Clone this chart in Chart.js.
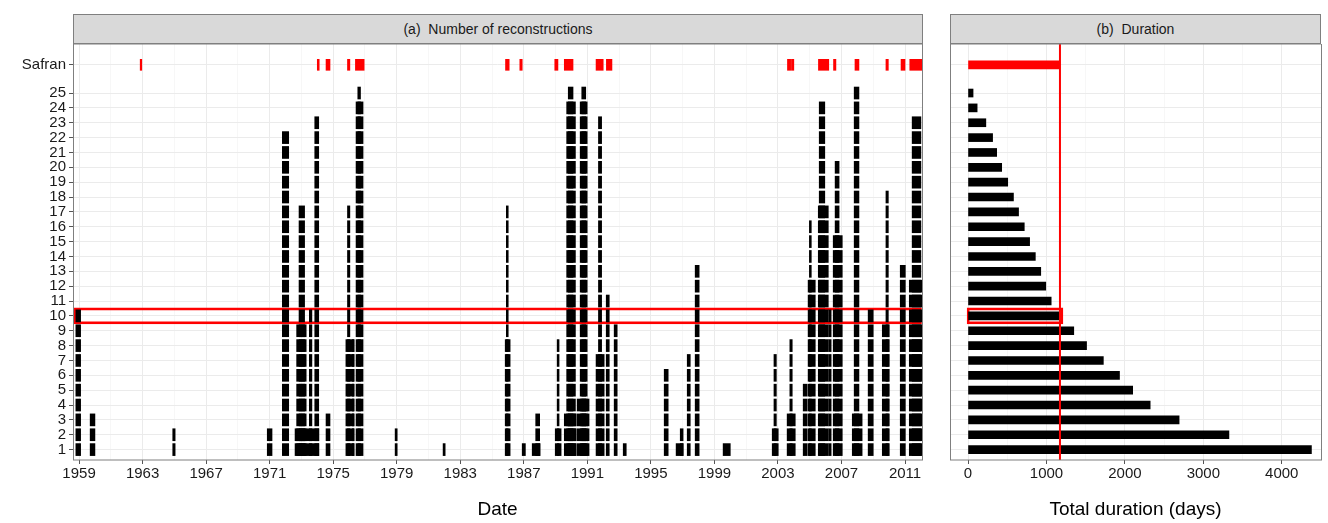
<!DOCTYPE html>
<html>
<head>
<meta charset="utf-8">
<script src="https://cdn.jsdelivr.net/npm/chart.js@4.4.1/dist/chart.umd.min.js"></script>
<style>
  body { margin: 0; background: #fff; font-family: "Liberation Sans", Arial, sans-serif; }
  #wrap { position: relative; width: 1328px; height: 523px; overflow: hidden; }
  .strip { position: absolute; top: 14px; height: 30px; background: #d9d9d9; border: 1px solid #7f7f7f;
           box-sizing: border-box; font-size: 14px; color: #1a1a1a; text-align: center; line-height: 28px; }
  canvas { position: absolute; top: 44px; }
</style>
</head>
<body>
<div id="wrap">
  <div class="strip" style="left:73px;width:850px;">(a)&nbsp; Number of reconstructions</div>
  <div class="strip" style="left:950px;width:371px;">(b)&nbsp; Duration</div>
  <canvas id="chartA" style="left:0px;"></canvas>
  <canvas id="chartB" style="left:935px;"></canvas>
</div>
<script>
// drought periods per reconstruction: [start year, end year, highest reconstruction number]
var events = [
  [1958.8, 1959.1, 10], [1959.7, 1960.0, 3], [1964.9, 1965.05, 2], [1970.85, 1971.15, 2],
  [1971.8, 1972.2, 22], [1972.6, 1974.1, 2], [1972.7, 1973.3, 9], [1972.85, 1973.2, 17],
  [1973.5, 1973.66, 10], [1973.84, 1974.09, 23], [1974.55, 1974.8, 3],
  [1975.8, 1976.32, 8], [1975.9, 1976.05, 17], [1976.2, 1976.3, 8], [1976.44, 1976.88, 24], [1976.55, 1976.72, 25],
  [1978.9, 1979.03, 2], [1981.92, 1982.05, 1],
  [1985.83, 1986.14, 8], [1985.9, 1986.02, 17], [1986.9, 1987.1, 1], [1987.53, 1988.03, 1], [1987.75, 1988.0, 3],
  [1988.98, 1989.35, 2], [1989.1, 1989.22, 8],
  [1989.55, 1990.3, 3], [1989.7, 1990.25, 24], [1989.8, 1990.1, 25],
  [1990.36, 1991.11, 4], [1990.55, 1990.99, 24], [1990.65, 1990.9, 25],
  [1991.55, 1992.06, 7], [1991.7, 1991.9, 23], [1992.19, 1992.38, 11], [1992.69, 1992.88, 9], [1993.26, 1993.45, 1],
  [1995.84, 1996.09, 6], [1996.59, 1997.03, 1], [1996.85, 1997.03, 2], [1997.29, 1997.48, 7], [1997.79, 1998.04, 13],
  [1999.55, 2000.0, 1],
  [2002.64, 2003.02, 2], [2002.75, 2002.9, 7], [2003.58, 2004.09, 3], [2003.75, 2003.9, 8],
  [2004.59, 2004.84, 5], [2004.9, 2005.35, 12], [2004.98, 2005.1, 16],
  [2005.54, 2006.17, 17], [2005.6, 2005.95, 24], [2006.2, 2006.35, 10],
  [2006.48, 2007.05, 15], [2006.6, 2006.85, 20], [2007.68, 2008.3, 3], [2007.8, 2008.1, 25],
  [2008.68, 2009.0, 10], [2009.57, 2010.01, 9], [2009.8, 2009.95, 18], [2010.7, 2011.02, 13],
  [2011.27, 2012.15, 12], [2011.45, 2012.0, 23]
];
// Safran drought periods
var safran = [
  [1962.85, 1962.95], [1974.0, 1974.12], [1974.55, 1974.8], [1975.9, 1976.05], [1976.4, 1976.95],
  [1985.85, 1986.08], [1986.75, 1986.9], [1988.95, 1989.15], [1989.55, 1990.1],
  [1991.55, 1992.0], [1992.2, 1992.55], [2003.6, 2003.8], [2003.85, 2004.0],
  [2005.55, 2006.2], [2006.5, 2006.65], [2007.85, 2008.1], [2009.8, 2009.95], [2010.75, 2011.0], [2011.3, 2012.15]
];
// total duration (days) for reconstructions 1..25
var durations = [4378, 3326, 2691, 2322, 2099, 1931, 1725, 1511, 1348, 1172, 1060, 991, 927, 858, 785,
                 717, 644, 579, 506, 429, 365, 313, 227, 116, 64];
var safranDuration = 1172;
var selectedRow = 10;
var safranRow = 26.9;
var yearTicks = [1959, 1963, 1967, 1971, 1975, 1979, 1983, 1987, 1991, 1995, 1999, 2003, 2007, 2011];
var durationTicks = [0, 1000, 2000, 3000, 4000];

var FONT = "'Liberation Sans', Arial, sans-serif";
Chart.defaults.font.family = FONT;
Chart.defaults.animation = false;

var recBars = [];
events.forEach(function (ev) {
  for (var r = 1; r <= ev[2]; r++) recBars.push({ x: [ev[0], ev[1]], y: r });
});
var safranBars = safran.map(function (s) { return { x: [s[0], s[1]], y: safranRow }; });

var borderPlugin = {
  id: "panelBorder",
  afterDraw: function (chart) {
    var a = chart.chartArea, c = chart.ctx;
    c.save(); c.strokeStyle = "#7f7f7f"; c.lineWidth = 1;
    c.strokeRect(a.left + 0.5, a.top, a.right - a.left, a.bottom - a.top);
    c.restore();
  }
};

function yScale(showLabels, width) {
  return {
    type: "linear", min: 0.3, max: 28.3, offset: false,
    afterBuildTicks: function (s) {
      var t = [];
      for (var i = 1; i <= 25; i++) t.push({ value: i });
      t.push({ value: safranRow });
      s.ticks = t;
    },
    afterFit: function (s) { s.width = width; s.paddingTop = 0; s.paddingBottom = 0; },
    ticks: {
      display: showLabels, color: "#1a1a1a", font: { size: 15 }, padding: 3, autoSkip: false,
      callback: function (v) { return v === safranRow ? "Safran" : v; }
    },
    grid: { color: "#ebebeb", tickColor: "#555", tickLength: showLabels ? 4 : 0, offset: false },
    border: { display: false }
  };
}

function xScale(min, max, majors, step, title) {
  return {
    type: "linear", min: min, max: max,
    afterBuildTicks: function (s) {
      var t = [];
      for (var v = majors[0] - step; v <= max; v += step) if (v >= min) t.push({ value: v });
      s.ticks = t;
    },
    afterFit: function (s) { s.height = 63; s.paddingLeft = 0; s.paddingRight = 0; },
    ticks: {
      color: "#1a1a1a", font: { size: 15 }, maxRotation: 0, autoSkip: false, padding: 1,
      callback: function (v) { return majors.indexOf(v) >= 0 ? v : ""; }
    },
    grid: {
      color: function (c) { return c.tick && majors.indexOf(c.tick.value) >= 0 ? "#ebebeb" : "#f7f7f7"; },
      tickColor: function (c) { return c.tick && majors.indexOf(c.tick.value) >= 0 ? "#555" : "rgba(0,0,0,0)"; },
      tickLength: 4
    },
    border: { display: false },
    title: { display: true, text: title, color: "#000", font: { size: 19 }, padding: { top: 0, bottom: 2 } }
  };
}

var cA = document.getElementById("chartA");
cA.width = 935; cA.height = 479;
new Chart(cA, {
  type: "bar",
  data: {
    datasets: [
      { data: recBars, backgroundColor: "#000", barThickness: 12 },
      { data: safranBars, backgroundColor: "#ff0000", barThickness: 11 },
      { data: [{ x: [1958.66, 2012.04], y: selectedRow }], backgroundColor: "rgba(0,0,0,0)",
        borderColor: "#ff0000", borderWidth: 2, borderSkipped: false, barThickness: 16 }
    ]
  },
  options: {
    responsive: false, indexAxis: "y", grouped: false,
    layout: { padding: { right: 13, top: 0 } },
    plugins: { legend: { display: false }, tooltip: { enabled: false } },
    scales: { x: xScale(1958.62, 2012.07, yearTicks, 2, "Date"), y: yScale(true, 73) }
  },
  plugins: [borderPlugin]
});

var durBars = durations.map(function (d, i) { return { x: [0, d], y: i + 1 }; });
var cB = document.getElementById("chartB");
cB.width = 393; cB.height = 479;
new Chart(cB, {
  type: "bar",
  data: {
    datasets: [
      { data: durBars, backgroundColor: "#000", barThickness: 8 },
      { data: [{ x: [0, safranDuration], y: safranRow }], backgroundColor: "#ff0000", barThickness: 8 },
      { data: [{ x: [-12, 1210], y: selectedRow }], backgroundColor: "rgba(0,0,0,0)",
        borderColor: "#ff0000", borderWidth: 2, borderSkipped: false, barThickness: 16 }
    ]
  },
  options: {
    responsive: false, indexAxis: "y", grouped: false,
    layout: { padding: { right: 7, top: 0 } },
    plugins: { legend: { display: false }, tooltip: { enabled: false } },
    scales: { x: xScale(-230, 4500, durationTicks, 500, "Total duration (days)"), y: yScale(false, 15) }
  },
  plugins: [borderPlugin, {
    id: "safranLine",
    afterDatasetsDraw: function (chart) {
      var a = chart.chartArea, c = chart.ctx, px = chart.scales.x.getPixelForValue(safranDuration);
      c.save(); c.strokeStyle = "#ff0000"; c.lineWidth = 2;
      c.beginPath(); c.moveTo(px, a.top); c.lineTo(px, a.bottom); c.stroke(); c.restore();
    }
  }]
});
</script>
</body>
</html>
